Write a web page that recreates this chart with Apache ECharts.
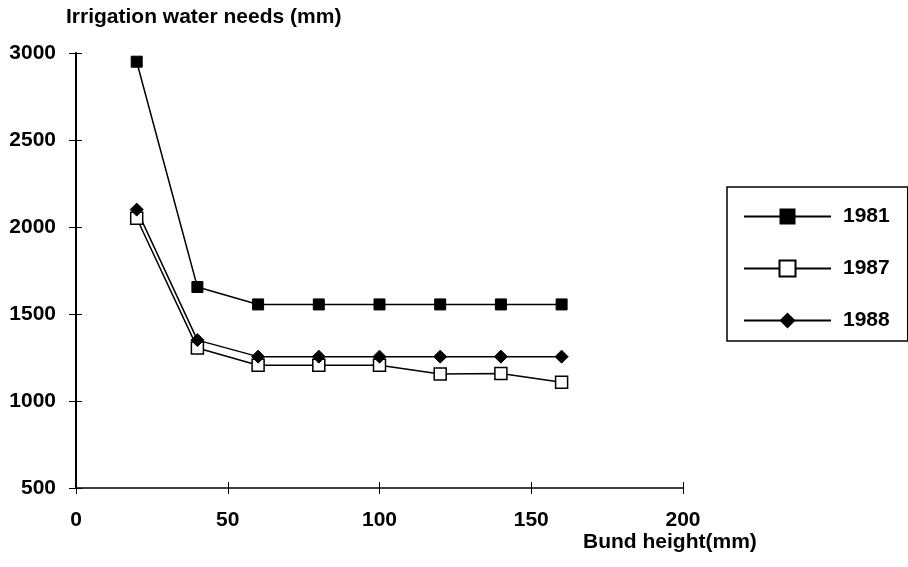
<!DOCTYPE html>
<html>
<head>
<meta charset="utf-8">
<script src="https://cdn.jsdelivr.net/npm/echarts@6/dist/echarts.min.js"></script>
<style>html,body{margin:0;padding:0;background:#fff}#c{width:908px;height:567px}</style>
</head>
<body>
<div id="c"></div>
<script>
const bundHeights = [20, 40, 60, 80, 100, 120, 140, 160];
const s1981 = [2950, 1655, 1555, 1555, 1555, 1555, 1555, 1555];
const s1987 = [2050, 1305, 1205, 1205, 1205, 1155, 1158, 1108];
const s1988 = [2100, 1350, 1255, 1255, 1255, 1255, 1255, 1255];
const seriesNames = ['1981', '1987', '1988'];

const font = 'Liberation Sans, Arial, sans-serif';
const chart = echarts.init(document.getElementById('c'));
const pairs = arr => bundHeights.map((x, i) => [x, arr[i]]);
const lineStyle = {color: '#000', width: 1.5};
const labelStyle = {color: '#000', fontSize: 21, fontWeight: 'bold', fontFamily: font, formatter: v => String(v)};
chart.setOption({
  animation: false,
  backgroundColor: '#fff',
  grid: {left: 76, right: 225, top: 53, bottom: 79},
  legend: {
    orient: 'vertical', left: 727, top: 187,
    padding: [19, 18, 10, 16],
    borderColor: '#000', borderWidth: 1.5,
    itemWidth: 87, itemHeight: 20, itemGap: 31,
    textStyle: {color: '#000', fontSize: 21, fontWeight: 'bold', fontFamily: font, padding: [0, 0, 0, 7]},
    data: seriesNames
  },
  xAxis: [{
    type: 'value', min: 0, max: 200, interval: 50,
    axisLine: {show: true, onZero: false, lineStyle: {color: '#000', width: 1.5}},
    splitLine: {show: false},
    axisTick: {show: true, inside: false, length: 6, lineStyle: {color: '#000'}},
    axisLabel: {...labelStyle, margin: 22}
  }, {
    type: 'value', min: 0, max: 200, interval: 50, position: 'bottom',
    axisLine: {show: false, onZero: false}, splitLine: {show: false}, axisLabel: {show: false},
    axisTick: {show: true, inside: true, length: 6, lineStyle: {color: '#000'}}
  }],
  yAxis: [{
    type: 'value', min: 500, max: 3000, interval: 500,
    axisLine: {show: true, onZero: false, lineStyle: {color: '#000', width: 2}},
    splitLine: {show: false},
    axisTick: {show: true, inside: false, length: 7, lineStyle: {color: '#000'}},
    axisLabel: {...labelStyle, margin: 20}
  }, {
    type: 'value', min: 500, max: 3000, interval: 500, position: 'left',
    axisLine: {show: false, onZero: false}, splitLine: {show: false}, axisLabel: {show: false},
    axisTick: {show: true, inside: true, length: 6, lineStyle: {color: '#000'}}
  }],
  graphic: [
    {type: 'text', left: 66, top: 7, style: {text: 'Irrigation water needs (mm)', fill: '#000', font: 'bold 21px ' + font}},
    {type: 'text', left: 583, top: 532, style: {text: 'Bund height(mm)', fill: '#000', font: 'bold 21px ' + font}}
  ],
  series: [
    {name: '1981', type: 'line', data: pairs(s1981), symbol: 'rect', symbolSize: 11,
     lineStyle, itemStyle: {color: '#000', borderColor: '#000'}},
    {name: '1987', type: 'line', data: pairs(s1987), symbol: 'rect', symbolSize: 12,
     lineStyle, itemStyle: {color: '#fff', borderColor: '#000', borderWidth: 1.5}},
    {name: '1988', type: 'line', data: pairs(s1988), symbol: 'diamond', symbolSize: 13,
     lineStyle, itemStyle: {color: '#000', borderColor: '#000'}}
  ]
});
</script>
</body>
</html>
